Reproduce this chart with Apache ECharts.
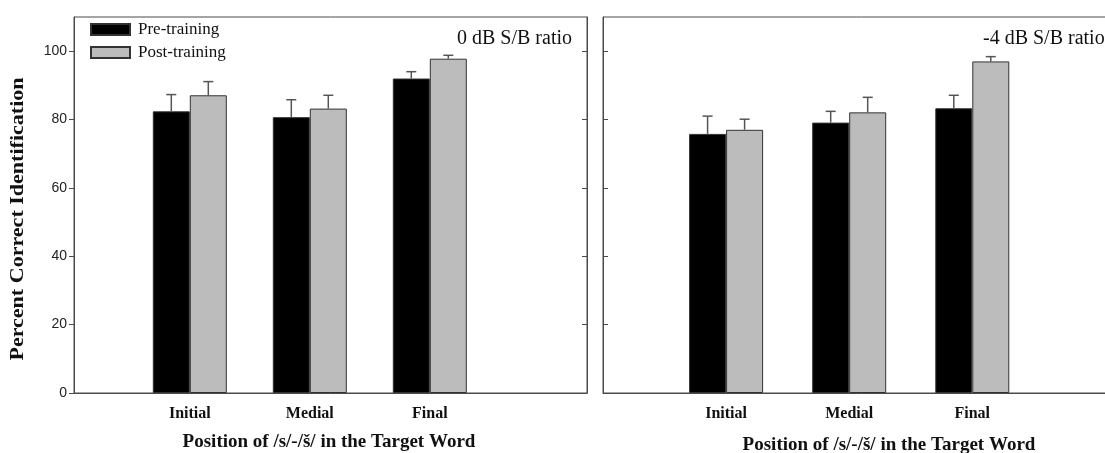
<!DOCTYPE html>
<html>
<head>
<meta charset="utf-8">
<script src="https://cdn.jsdelivr.net/npm/echarts@6/dist/echarts.min.js"></script>
<style>
  html, body { margin: 0; padding: 0; background: #fff; overflow: hidden; }
  #chart { width: 1125px; height: 453px; }
</style>
</head>
<body>
<div id="chart"></div>
<script>
// Position categories along the x axis
const categories = ['Initial', 'Medial', 'Final'];
const categoryPos = [1, 2, 3];
const seriesNames = ['Pre-training', 'Post-training'];
const yTicks = [0, 20, 40, 60, 80, 100];

// 0 dB S/B ratio (left panel): means and error (SD) for each position
const pre0 = [82.4, 80.7, 92.0];
const pre0Err = [4.9, 5.1, 2.0];
const post0 = [87.1, 83.2, 97.8];
const post0Err = [4.0, 3.9, 1.0];

// -4 dB S/B ratio (right panel)
const pre4 = [75.8, 79.1, 83.3];
const pre4Err = [5.2, 3.3, 3.8];
const post4 = [77.0, 82.1, 97.0];
const post4Err = [3.1, 4.4, 1.4];

const BAR_W = 37;
const SERIF = '"Liberation Serif", "Times New Roman", serif';
const SANS = '"Liberation Sans", Arial, sans-serif';
const AXIS_COLOR = '#4a4a4a';

const chart = echarts.init(document.getElementById('chart'), null, { renderer: 'canvas' });

function barData(vals) {
  return vals.map((v, i) => [categoryPos[i], v]);
}
function errData(vals, errs, side) {
  return vals.map((v, i) => [categoryPos[i], v, errs[i], side]);
}

function errorSeries(name, vals, errs, side, gi, yi) {
  return {
    type: 'custom',
    name: name + ' error',
    xAxisIndex: gi,
    yAxisIndex: yi,
    z: 5,
    silent: true,
    data: errData(vals, errs, side),
    renderItem: function (params, api) {
      const x = api.value(0);
      const v = api.value(1);
      const e = api.value(2);
      const s = api.value(3);
      const base = api.coord([x, v]);
      const top = api.coord([x, v + e]);
      const cx = base[0] + s * BAR_W / 2;
      const cap = 5;
      const style = { stroke: '#555', lineWidth: 1.5 };
      return {
        type: 'group',
        children: [
          { type: 'line', shape: { x1: cx, y1: base[1], x2: cx, y2: top[1] }, style: style },
          { type: 'line', shape: { x1: cx - cap, y1: top[1], x2: cx + cap, y2: top[1] }, style: style }
        ]
      };
    }
  };
}

function barSeries(name, vals, color, gi, yi) {
  return {
    type: 'bar',
    name: name,
    xAxisIndex: gi,
    yAxisIndex: yi,
    barWidth: BAR_W,
    barGap: '0%',
    data: barData(vals),
    itemStyle: { color: color, borderColor: '#333', borderWidth: 1 },
    emphasis: { disabled: true }
  };
}

function xAxisFor(gi, min, max) {
  return {
    type: 'value',
    gridIndex: gi,
    min: min,
    max: max,
    axisLine: { show: true, lineStyle: { color: AXIS_COLOR, width: 1 } },
    axisTick: { show: false },
    splitLine: { show: false },
    axisLabel: {
      customValues: categoryPos,
      margin: 13,
      fontFamily: SERIF,
      fontWeight: 'bold',
      fontSize: 16,
      color: '#111',
      formatter: function (v) {
        const idx = categoryPos.indexOf(Math.round(v));
        return idx >= 0 ? categories[idx] : '';
      }
    }
  };
}

function yAxisFor(gi, position, showLabels, inside) {
  return {
    type: 'value',
    gridIndex: gi,
    position: position,
    min: 0,
    max: 110,
    interval: 20,
    axisLine: { show: true, lineStyle: { color: AXIS_COLOR, width: 1 } },
    axisTick: { show: true, customValues: yTicks, inside: inside, length: 5, lineStyle: { color: AXIS_COLOR, width: 1 } },
    splitLine: { show: false },
    axisLabel: {
      show: showLabels,
      customValues: yTicks,
      margin: 7,
      fontFamily: SANS,
      fontSize: 14,
      color: '#222'
    }
  };
}

const option = {
  animation: false,
  backgroundColor: '#fff',
  grid: [
    { left: 74, top: 17, width: 513, height: 376, show: true, borderColor: AXIS_COLOR, borderWidth: 1 },
    { left: 603, top: 17, width: 517, height: 376, show: true, borderColor: AXIS_COLOR, borderWidth: 1 }
  ],
  xAxis: [xAxisFor(0, 0.035, 4.31), xAxisFor(1, 0, 4.2)],
  yAxis: [
    yAxisFor(0, 'left', true, false),
    yAxisFor(0, 'right', false, true),
    yAxisFor(1, 'left', false, true),
    yAxisFor(1, 'right', false, true)
  ],
  legend: {
    orient: 'vertical',
    left: 85,
    top: 16,
    itemWidth: 39,
    itemHeight: 11,
    itemGap: 6,
    icon: 'rect',
    data: seriesNames,
    textStyle: { fontFamily: SERIF, fontSize: 17, color: '#111', lineHeight: 17, padding: [0, 0, 0, 3] },
    selectedMode: false
  },
  series: [
    barSeries(seriesNames[0], pre0, '#000000', 0, 0),
    barSeries(seriesNames[1], post0, '#bcbcbc', 0, 0),
    barSeries(seriesNames[0], pre4, '#000000', 1, 2),
    barSeries(seriesNames[1], post4, '#bcbcbc', 1, 2),
    errorSeries(seriesNames[0], pre0, pre0Err, -1, 0, 0),
    errorSeries(seriesNames[1], post0, post0Err, 1, 0, 0),
    errorSeries(seriesNames[0], pre4, pre4Err, -1, 1, 2),
    errorSeries(seriesNames[1], post4, post4Err, 1, 1, 2)
  ],
  graphic: [
    {
      type: 'text', x: 572, y: 39,
      style: { text: '0 dB S/B ratio', align: 'right', verticalAlign: 'middle', font: '20px ' + SERIF, fill: '#111' }
    },
    {
      type: 'text', x: 983, y: 39,
      style: { text: '-4 dB S/B ratio', align: 'left', verticalAlign: 'middle', font: '20px ' + SERIF, fill: '#111' }
    },
    {
      type: 'text', x: 18, y: 219, rotation: Math.PI / 2, scaleX: 1.16,
      style: { text: 'Percent Correct Identification', align: 'center', verticalAlign: 'middle', font: 'bold 19px ' + SERIF, fill: '#111' }
    },
    {
      type: 'text', x: 329, y: 442,
      style: { text: 'Position of /s/-/š/ in the Target Word', align: 'center', verticalAlign: 'middle', font: 'bold 19px ' + SERIF, fill: '#111' }
    },
    {
      type: 'text', x: 889, y: 445,
      style: { text: 'Position of /s/-/š/ in the Target Word', align: 'center', verticalAlign: 'middle', font: 'bold 19px ' + SERIF, fill: '#111' }
    }
  ]
};

chart.setOption(option);
</script>
</body>
</html>
